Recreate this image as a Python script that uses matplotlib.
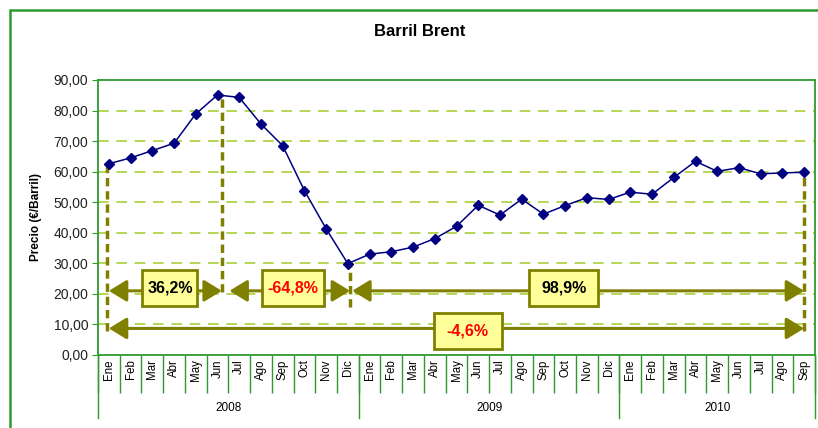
import matplotlib
matplotlib.use("Agg")
import matplotlib.pyplot as plt
from matplotlib.patches import FancyArrowPatch, Rectangle
from matplotlib.ticker import FixedLocator, FuncFormatter
import matplotlib.transforms as mtransforms

plt.rcParams['font.family'] = ['Liberation Sans', 'DejaVu Sans']

months = ["Ene", "Feb", "Mar", "Abr", "May", "Jun", "Jul", "Ago", "Sep", "Oct", "Nov", "Dic"]
years = ["2008", "2009", "2010"]
year_counts = [12, 12, 9]
labels = months * 2 + months[:9]

prices = [62.6, 64.5, 66.9, 69.3, 78.9, 85.1, 84.3, 75.6, 68.5, 53.8, 41.3, 29.9,
          33.0, 33.8, 35.3, 38.1, 42.1, 49.0, 45.8, 51.0, 46.1, 48.9, 51.5, 50.9,
          53.3, 52.6, 58.1, 63.4, 60.1, 61.3, 59.3, 59.6, 59.8]

changes = ["36,2%", "-64,8%", "98,9%", "-4,6%"]
change_colors = ["black", "red", "black", "red"]

GREEN = "#2E9A2E"
OLIVE = "#808000"
GRID = "#A0CC28"

fig = plt.figure(figsize=(8.18, 4.28), dpi=100)
ax = fig.add_axes([98 / 818, 1 - 355 / 428, (815 - 98) / 818, (355 - 80) / 428])

# outer border (left & top visible)
fig.patches.append(Rectangle((10 / 818, -0.1), 1.2, (418 / 428) + 0.1, transform=fig.transFigure,
                             fill=False, ec=GREEN, lw=1.8, zorder=0))

x = list(range(len(prices)))
n = len(prices)

ax.set_xlim(-0.5, n - 0.5)
ax.set_ylim(0, 90)

for v in range(10, 90, 10):
    ax.axhline(v, color=GRID, lw=1.1, ls=(0, (7, 5)), zorder=1)

ax.plot(x, prices, color="#000080", lw=1.1, marker="D", ms=5.5, mec="#000080", mfc="#000080", zorder=5)

# vertical dashed reference lines
vlines = [(-0.1, prices[0], 8.0), (5.2, prices[5], 20.5), (11.1, prices[11], 15.8), (32.0, prices[32], 8.0)]
for xv, top, bot in vlines:
    ax.plot([xv, xv], [bot, top], color=OLIVE, lw=2.5, ls=(0, (2.4, 1.4)), zorder=3,
            solid_capstyle="butt", dash_capstyle="butt")

# double arrows
arrows = [(0, 5.2, 21.0), (5.55, 11.1, 21.0), (11.2, 32.0, 21.0), (0.0, 32.0, 8.7)]
for x0, x1, yv in arrows:
    arr = FancyArrowPatch((x0, yv), (x1, yv), arrowstyle="<|-|>,head_length=0.9,head_width=0.55",
                          mutation_scale=12, color=OLIVE, lw=2.2, shrinkA=0, shrinkB=0, zorder=4)
    ax.add_patch(arr)

# label boxes (fixed pixel sizes)
box_pos = [(2.81, 22.0), (8.47, 22.0), (20.94, 22.0), (16.52, 7.85)]
box_w_px = [55, 62, 69, 68]
box_h_px = 36
for (bx, by), w, txt, col in zip(box_pos, box_w_px, changes, change_colors):
    tr = fig.dpi_scale_trans + mtransforms.ScaledTranslation(bx, by, ax.transData)
    rect = Rectangle((-w / 2 / 100, -box_h_px / 2 / 100), w / 100, box_h_px / 100, transform=tr,
                     fc="#FFFF99", ec=OLIVE, lw=2, zorder=6)
    ax.add_patch(rect)
    ax.text(bx, by, txt, ha="center", va="center", fontsize=11.5, fontweight="bold", color=col, zorder=7)

# axes styling
for s in ["left", "top", "bottom", "right"]:
    ax.spines[s].set_color(GREEN)
    ax.spines[s].set_linewidth(1.3)

ax.yaxis.set_major_locator(FixedLocator(range(0, 91, 10)))
ax.yaxis.set_major_formatter(FuncFormatter(lambda v, p: f"{v:.2f}".replace(".", ",")))
ax.tick_params(axis="y", direction="out", length=4, color=GREEN, labelsize=10, pad=3, labelcolor="#222222")

ax.set_xticks(x)
ax.set_xticklabels(labels, rotation=90, fontsize=8.3)
ax.tick_params(axis="x", which="major", length=0, pad=3)
ax.set_xticks([i + 0.5 for i in range(-1, n)], minor=True)
ax.tick_params(axis="x", which="minor", direction="out", length=27, color=GREEN, width=1.0)

# year separators & labels
trans = mtransforms.blended_transform_factory(ax.transData, ax.transAxes)
start = 0
bounds = [-0.5]
for yr, cnt in zip(years, year_counts):
    end = start + cnt
    bounds.append(end - 0.5)
    ax.text((start + end - 1) / 2, -0.193, yr, transform=trans, ha="center", va="center", fontsize=8.5)
    start = end
for b in bounds:
    ax.plot([b, b], [0, -0.23], transform=trans, color=GREEN, lw=1.0, clip_on=False)

ax.set_ylabel("Precio (€/Barril)", fontsize=8.5, fontweight="bold", labelpad=8)
fig.text(420 / 818, 1 - 32 / 428, "Barril Brent", ha="center", va="center", fontsize=12, fontweight="bold")

fig.savefig("out.png", dpi=100)
